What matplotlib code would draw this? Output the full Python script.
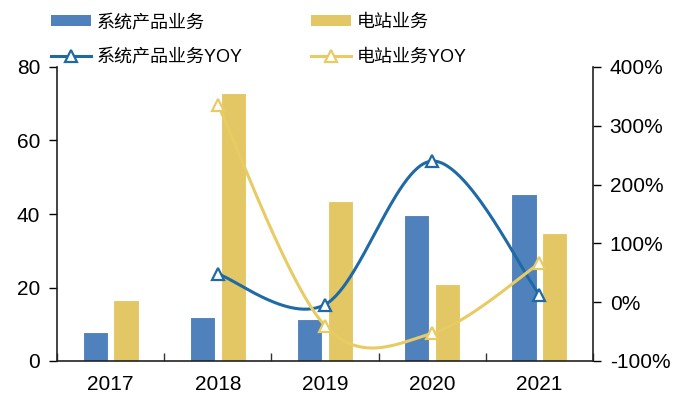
import numpy as np
import matplotlib
matplotlib.use("Agg")
import matplotlib.pyplot as plt
from matplotlib.patches import Patch
from matplotlib.lines import Line2D
from matplotlib.ticker import FuncFormatter, FixedLocator

plt.rcParams['font.family'] = ['Liberation Sans', 'Noto Sans CJK SC', 'DejaVu Sans']

years = ["2017", "2018", "2019", "2020", "2021"]
system_rev = [8.0, 11.9, 11.5, 39.7, 45.4]
station_rev = [16.6, 73.0, 43.5, 20.9, 34.7]
yoy_years = ["2018", "2019", "2020", "2021"]
system_yoy = [48, -4, 240, 13]
station_yoy = [336, -40, -53, 66]

labels = ["系统产品业务", "电站业务", "系统产品业务YOY", "电站业务YOY"]

bar_blue = "#4F81BD"
bar_yellow = "#E3C764"
line_blue = "#1F6AA5"
line_yellow = "#E8CB62"


def smooth(xs, ys, n=60):
    """Catmull-Rom style Bezier smoothing through the given points."""
    pts = np.column_stack([xs, ys]).astype(float)
    out = [pts[0]]
    t = np.linspace(0, 1, n)[1:, None]
    for i in range(len(pts) - 1):
        p0 = pts[i - 1] if i > 0 else pts[i]
        p1, p2 = pts[i], pts[i + 1]
        p3 = pts[i + 2] if i + 2 < len(pts) else pts[i + 1]
        c1 = p1 + (p2 - p0) / 6.0
        c2 = p2 - (p3 - p1) / 6.0
        seg = ((1 - t) ** 3) * p1 + 3 * ((1 - t) ** 2) * t * c1 \
            + 3 * (1 - t) * t ** 2 * c2 + t ** 3 * p2
        out.extend(seg)
    out = np.array(out)
    return out[:, 0], out[:, 1]


fig = plt.figure(figsize=(6.75, 4.01), dpi=100)
ax = fig.add_axes([57 / 675, 40 / 401, 536 / 675, 294 / 401])
ax2 = ax.twinx()

x = np.arange(len(years))
bw = 0.235
off = 0.143
ax.bar(x - off, system_rev, bw, color=bar_blue, edgecolor="white", linewidth=0.8, zorder=2)
ax.bar(x + off, station_rev, bw, color=bar_yellow, edgecolor="white", linewidth=0.8, zorder=2)

xl = np.array([years.index(y) for y in yoy_years])
sx, sy = smooth(xl, system_yoy)
ax2.plot(sx, sy, color=line_blue, lw=2.2, solid_capstyle="round")
ax2.plot(xl, system_yoy, ls="none", marker="^", ms=8, mfc="white", mec=line_blue, mew=1.6)
yx, yy = smooth(xl, station_yoy)
ax2.plot(yx, yy, color=line_yellow, lw=2.2, solid_capstyle="round")
ax2.plot(xl, station_yoy, ls="none", marker="^", ms=8, mfc="white", mec=line_yellow, mew=1.6)

ax.set_xlim(-0.5, len(years) - 0.5)
ax.set_ylim(0, 80)
ax.set_yticks(np.arange(0, 81, 20))
ax2.set_ylim(-100, 400)
ax2.set_yticks(np.arange(-100, 401, 100))
ax2.yaxis.set_major_formatter(FuncFormatter(lambda v, p: f"{v:.0f}%"))

ax.xaxis.set_major_locator(FixedLocator(np.arange(-0.5, len(years), 1.0)))
ax.xaxis.set_minor_locator(FixedLocator(x))
ax.set_xticklabels([], minor=False)
ax.set_xticklabels(years, minor=True)
ax.tick_params(axis="x", which="major", direction="in", length=6, width=1, color="#333333")
ax.tick_params(axis="x", which="minor", length=0, pad=10, labelsize=15)
ax.tick_params(axis="y", direction="out", length=6, width=1, labelsize=15, pad=6)
ax2.tick_params(axis="y", direction="out", length=6, width=1, labelsize=15, pad=6)

for a in (ax, ax2):
    a.spines["top"].set_visible(False)
    for s in a.spines.values():
        s.set_linewidth(1.2)
        s.set_color("#222222")
ax.spines["right"].set_visible(False)
ax2.spines["left"].set_visible(False)
ax2.spines["bottom"].set_visible(False)

handles = [
    Patch(facecolor=bar_blue, edgecolor="none"),
    Line2D([], [], color=line_blue, lw=2.2, marker="^", ms=8, mfc="white", mec=line_blue, mew=1.6),
    Patch(facecolor=bar_yellow, edgecolor="none"),
    Line2D([], [], color=line_yellow, lw=2.2, marker="^", ms=8, mfc="white", mec=line_yellow, mew=1.6),
]
order_labels = [labels[0], labels[2], labels[1], labels[3]]
fig.legend(handles, order_labels, loc="upper left", bbox_to_anchor=(51 / 675, 1 - 14 / 401),
           ncol=2, frameon=False, fontsize=13, handlelength=2.2, handleheight=0.6,
           handletextpad=0.33, columnspacing=3.8, labelspacing=0.98, borderpad=0, borderaxespad=0)

fig.savefig("out.png", dpi=100)
